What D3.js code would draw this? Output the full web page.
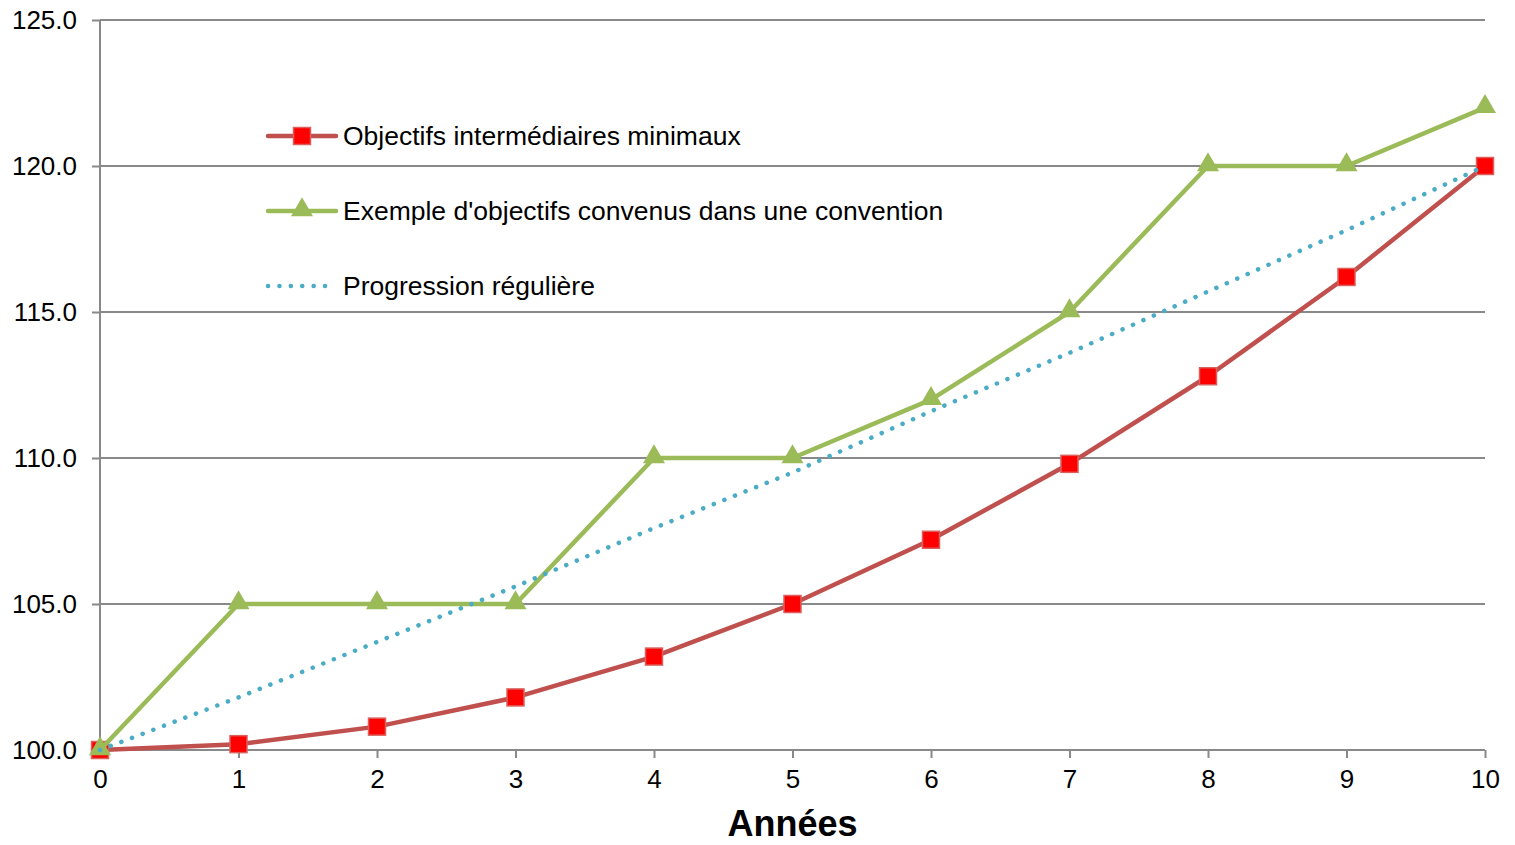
<!DOCTYPE html>
<html>
<head>
<meta charset="utf-8">
<script src="https://cdn.jsdelivr.net/npm/d3@7"></script>
<style>
  body { margin: 0; background: #fff; }
  text { font-family: "Liberation Sans", Arial, sans-serif; }
</style>
</head>
<body>
<svg id="chart" width="1515" height="845"></svg>
<script>
'use strict';

// Values
const years = [0, 1, 2, 3, 4, 5, 6, 7, 8, 9, 10];
const minimaux = [100, 100.2, 100.8, 101.8, 103.2, 105, 107.2, 109.8, 112.8, 116.2, 120];
const convenus = [100, 105, 105, 105, 110, 110, 112, 115, 120, 120, 122];
const reguliere = [100, 101.8, 103.7, 105.6, 107.6, 109.5, 111.6, 113.6, 115.7, 117.8, 120];
const yTicks = [100, 105, 110, 115, 120, 125];

const seriesNames = [
    'Objectifs intermédiaires minimaux',
    'Exemple d\'objectifs convenus dans une convention',
    'Progression régulière'
];

const margin = {left: 100, right: 30, top: 20, bottom: 95};
const W = 1515, H = 845;

const svg = d3.select('#chart');

const x = d3.scaleLinear().domain([0, 10]).range([margin.left, W - margin.right]);
const y = d3.scaleLinear().domain([100, 125]).range([H - margin.bottom, margin.top]);

// horizontal grid lines
svg.append('g')
    .selectAll('line')
    .data(yTicks.slice(1))
    .enter()
    .append('line')
    .attr('x1', x(0)).attr('x2', x(10))
    .attr('y1', d => y(d)).attr('y2', d => y(d))
    .attr('stroke', '#898989').attr('stroke-width', 2);

// y axis
const yAxis = svg.append('g')
    .attr('transform', `translate(${x(0)},0)`)
    .call(d3.axisLeft(y).tickValues(yTicks).tickSize(8).tickPadding(15).tickFormat(d3.format('.1f')));

// x axis
const xAxis = svg.append('g')
    .attr('transform', `translate(0,${y(100)})`)
    .call(d3.axisBottom(x).tickValues(years).tickSize(8).tickPadding(12).tickFormat(d3.format('d')));

[yAxis, xAxis].forEach((ax) => {
    ax.select('.domain').attr('stroke', '#898989').attr('stroke-width', 2);
    ax.selectAll('.tick line').attr('stroke', '#898989').attr('stroke-width', 2);
    ax.selectAll('.tick text')
        .attr('fill', '#000')
        .style('font-size', '26px')
        .style('font-family', '"Liberation Sans", Arial, sans-serif');
});
yAxis.select('.domain').attr('d', `M0,${y(125)}V${y(100)}`);
xAxis.select('.domain').attr('d', `M${x(0)},0H${x(10)}`);

// axis title
svg.append('text')
    .attr('x', (x(0) + x(10)) / 2)
    .attr('y', 836)
    .attr('text-anchor', 'middle')
    .style('font-size', '36px')
    .style('font-weight', 'bold')
    .text('Années');

const line = d3.line()
    .x((d, i) => x(years[i]))
    .y(d => y(d));

const red = '#C0504D', green = '#9BBB59', blue = '#4BACC6';
const triangle = d3.symbol().type(d3.symbolTriangle).size(210);

function drawRed(g, data) {
    g.append('path').datum(data).attr('d', line)
        .attr('fill', 'none').attr('stroke', red).attr('stroke-width', 4.5)
        .attr('stroke-linejoin', 'round');
    g.selectAll('rect').data(data).enter().append('rect')
        .attr('x', (d, i) => x(years[i]) - 8.5)
        .attr('y', d => y(d) - 8.5)
        .attr('width', 17).attr('height', 17)
        .attr('fill', '#FF0000').attr('stroke', '#D9605C').attr('stroke-width', 1.5);
}

function drawGreen(g, data) {
    g.append('path').datum(data).attr('d', line)
        .attr('fill', 'none').attr('stroke', green).attr('stroke-width', 4.5)
        .attr('stroke-linejoin', 'round');
    g.selectAll('path.m').data(data).enter().append('path')
        .attr('class', 'm')
        .attr('d', triangle)
        .attr('transform', (d, i) => `translate(${x(years[i])},${y(d) - 1})`)
        .attr('fill', green);
}

function drawBlue(g, data) {
    g.append('path').datum(data).attr('d', line)
        .attr('fill', 'none').attr('stroke', blue).attr('stroke-width', 4.5)
        .attr('stroke-linecap', 'round').attr('stroke-dasharray', '0.1 11.3');
}

drawRed(svg.append('g'), minimaux);
drawGreen(svg.append('g'), convenus);
drawBlue(svg.append('g'), reguliere);

// legend
const legendRows = [136, 211, 286];
const leg = svg.append('g');
seriesNames.forEach((name, i) => {
    const ly = legendRows[i];
    const g = leg.append('g');
    if(i === 0) {
        g.append('line').attr('x1', 268).attr('x2', 336).attr('y1', ly).attr('y2', ly)
            .attr('stroke', red).attr('stroke-width', 4.5).attr('stroke-linecap', 'round');
        g.append('rect').attr('x', 293.5).attr('y', ly - 8.5).attr('width', 17).attr('height', 17)
            .attr('fill', '#FF0000').attr('stroke', '#D9605C').attr('stroke-width', 1.5);
    }
    else if(i === 1) {
        g.append('line').attr('x1', 268).attr('x2', 336).attr('y1', ly).attr('y2', ly)
            .attr('stroke', green).attr('stroke-width', 4.5).attr('stroke-linecap', 'round');
        g.append('path').attr('d', triangle).attr('transform', `translate(302,${ly - 1})`)
            .attr('fill', green);
    }
    else {
        g.append('line').attr('x1', 268).attr('x2', 336).attr('y1', ly).attr('y2', ly)
            .attr('stroke', blue).attr('stroke-width', 4.5)
            .attr('stroke-linecap', 'round').attr('stroke-dasharray', '0.1 11.3');
    }
    g.append('text').attr('x', 343).attr('y', ly + 9)
        .style('font-size', '26.5px').attr('fill', '#000')
        .text(name);
});
</script>
</body>
</html>
